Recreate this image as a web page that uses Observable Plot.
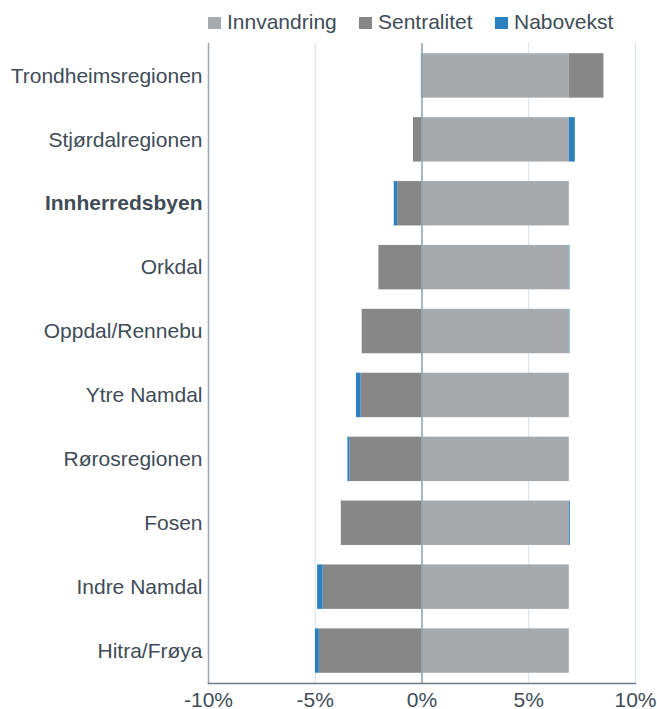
<!DOCTYPE html>
<html>
<head>
<meta charset="utf-8">
<script src="https://cdn.jsdelivr.net/npm/d3@7"></script>
<script src="https://cdn.jsdelivr.net/npm/@observablehq/plot@0.6"></script>
<style>
  html, body { margin: 0; padding: 0; background: #fff; }
  body { width: 657px; height: 709px; overflow: hidden; font-family: "Liberation Sans", Arial, sans-serif; }
  #legend { position: relative; height: 40px; }
  .item { position: absolute; top: 10px; display: flex; align-items: center; font-size: 21px; color: #3e4c57; white-space: nowrap; }
  .sw { width: 13px; height: 12px; margin-right: 6px; margin-top: 2px; }
  #chart svg { display: block; }
</style>
</head>
<body>
<div id="legend"></div>
<div id="chart"></div>
<script>
const regions = ["Trondheimsregionen", "Stjørdalregionen", "Innherredsbyen", "Orkdal", "Oppdal/Rennebu", "Ytre Namdal", "Rørosregionen", "Fosen", "Indre Namdal", "Hitra/Frøya"];
const innvandring = [6.9, 6.9, 6.9, 6.9, 6.9, 6.9, 6.9, 6.9, 6.9, 6.9];
const sentralitet = [1.62, -0.40, -1.14, -2.02, -2.80, -2.85, -3.38, -3.78, -4.63, -4.81];
const nabovekst = [-0.03, 0.28, -0.16, 0.03, 0.03, -0.22, -0.09, 0.05, -0.26, -0.18];
const seriesNames = ["Innvandring", "Sentralitet", "Nabovekst"];
const seriesColors = ["#a6aaad", "#878787", "#2a80c0"];
const xTicks = [-10, -5, 0, 5, 10];
const boldRegion = "Innherredsbyen";

const seriesValues = [innvandring, sentralitet, nabovekst];
const data = [];
seriesNames.forEach((s, i) => regions.forEach((r, j) => data.push({series: s, region: r, value: seriesValues[i][j]})));

// legend
const legend = document.getElementById("legend");
const legendLeft = [208, 359, 495];
seriesNames.forEach((s, i) => {
  const d = document.createElement("div");
  d.className = "item";
  d.style.left = legendLeft[i] + "px";
  d.innerHTML = `<span class="sw" style="background:${seriesColors[i]}"></span><span>${s}</span>`;
  legend.appendChild(d);
});

const chart = Plot.plot({
  width: 657,
  height: 669,
  marginTop: 3,
  marginBottom: 26,
  marginLeft: 208,
  marginRight: 22,
  style: {fontFamily: '"Liberation Sans", Arial, sans-serif', fontSize: "21px", color: "#3e4c57", background: "#fff", overflow: "visible"},
  x: {domain: [-10, 10], ticks: xTicks, tickFormat: d => d + "%", label: null},
  y: {domain: regions, paddingInner: 0.305, paddingOuter: 0.16, round: false, label: null},
  color: {domain: seriesNames, range: seriesColors},
  marks: [
    Plot.ruleX(xTicks.filter(d => d !== 0 && d !== -10), {stroke: "#dde4ea", strokeWidth: 1.2}),
    Plot.barX(data, {y: "region", x: "value", fill: "series"}),
    Plot.ruleX([0], {stroke: "#8aa1b1", strokeWidth: 1.5}),
    Plot.frame({anchor: "left", stroke: "#9aa5ad", strokeWidth: 1.5}),
    Plot.frame({anchor: "bottom", stroke: "#6d7e8a", strokeWidth: 1.5}),
    Plot.axisX({ticks: xTicks, tickFormat: d => d + "%", tickSize: 0, tickPadding: 9, fill: "#3e4c57", label: null}),
    Plot.axisY({ticks: regions.filter(r => r !== boldRegion), tickSize: 0, tickPadding: 6, fill: "#3e4c57", label: null}),
    Plot.axisY({ticks: [boldRegion], tickSize: 0, tickPadding: 6, fill: "#3e4c57", fontWeight: "bold", label: null})
  ]
});
document.getElementById("chart").appendChild(chart);
</script>
</body>
</html>
